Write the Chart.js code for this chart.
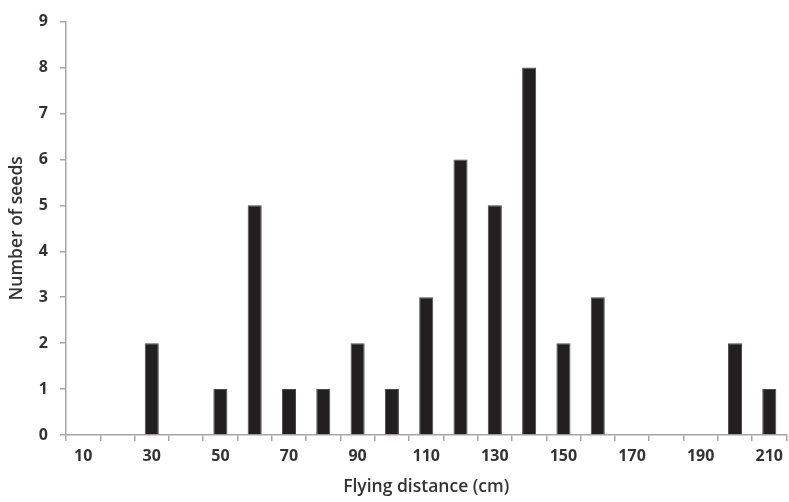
<!DOCTYPE html>
<html>
<head>
<meta charset="utf-8">
<script src="https://cdn.jsdelivr.net/npm/chart.js@4/dist/chart.umd.min.js"></script>
<style>
  html, body { margin: 0; padding: 0; background: #fff; }
  #wrap { width: 789px; height: 502px; position: relative; }
</style>
</head>
<body>
<div id="wrap"><canvas id="seedChart"></canvas></div>
<script>
// Flying distance categories (cm) and seed counts
const distances = [10, 20, 30, 40, 50, 60, 70, 80, 90, 100, 110, 120, 130, 140, 150, 160, 170, 180, 190, 200, 210];
const seedCounts = [0, 0, 2, 0, 1, 5, 1, 1, 2, 1, 3, 6, 5, 8, 2, 3, 0, 0, 0, 2, 1];
const yTicks = [0, 1, 2, 3, 4, 5, 6, 7, 8, 9];

const AXIS_GREY = '#a6a6a6';
const TEXT_COLOR = '#333333';
const FONT = "'Open Sans', 'Liberation Sans', sans-serif";

const ctx = document.getElementById('seedChart').getContext('2d');
new Chart(ctx, {
    type: 'bar',
    data: {
        labels: distances.map(String),
        datasets: [{
            label: 'Number of seeds',
            data: seedCounts,
            backgroundColor: '#231f20',
            borderColor: '#4a4a4a',
            borderWidth: 1,
            barPercentage: 0.41,
            categoryPercentage: 1.0
        }]
    },
    options: {
        responsive: true,
        maintainAspectRatio: false,
        animation: false,
        layout: { padding: { top: 14, right: 0, left: 0, bottom: 0 } },
        scales: {
            x: {
                grid: {
                    offset: true,
                    drawOnChartArea: false,
                    drawTicks: true,
                    tickLength: 6,
                    color: AXIS_GREY,
                    lineWidth: 1.5
                },
                border: { color: AXIS_GREY, width: 1.5 },
                ticks: {
                    autoSkip: false,
                    maxRotation: 0,
                    color: TEXT_COLOR,
                    font: { family: FONT, size: 16, weight: 'bold' },
                    padding: 6,
                    // only every other category is labelled
                    callback: function (value, index) {
                        return index % 2 === 0 ? distances[index] : '';
                    }
                },
                title: {
                    display: true,
                    text: 'Flying distance (cm)',
                    color: TEXT_COLOR,
                    font: { family: FONT, size: 17.5, weight: '600' },
                    padding: { top: 4 }
                },
                afterFit: function (scale) { scale.height = 67; }
            },
            y: {
                min: 0,
                max: 9,
                afterBuildTicks: function (scale) {
                    scale.ticks = yTicks.map(v => ({ value: v }));
                },
                grid: {
                    drawOnChartArea: false,
                    drawTicks: true,
                    tickLength: 6,
                    color: AXIS_GREY,
                    lineWidth: 1.5
                },
                border: { color: AXIS_GREY, width: 1.5 },
                ticks: {
                    color: TEXT_COLOR,
                    font: { family: FONT, size: 16, weight: 'bold' },
                    padding: 12
                },
                title: {
                    display: true,
                    text: 'Number of seeds',
                    color: TEXT_COLOR,
                    font: { family: FONT, size: 17.5, weight: '600' },
                    padding: { top: 7, bottom: 4 }
                },
                afterFit: function (scale) { scale.width = 66; }
            }
        },
        plugins: {
            legend: { display: false },
            tooltip: { enabled: false }
        }
    }
});
</script>
</body>
</html>
